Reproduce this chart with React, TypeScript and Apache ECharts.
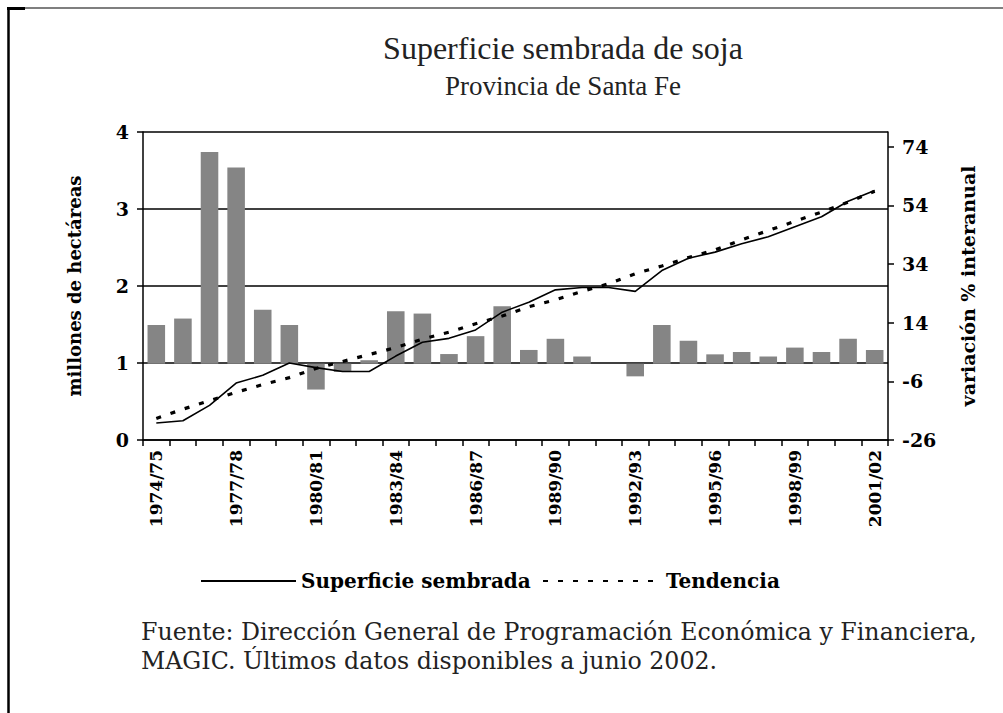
import React, { useEffect, useRef } from "react";
import * as echarts from "echarts";

const categories = [
  "1974/75", "1975/76", "1976/77", "1977/78", "1978/79", "1979/80", "1980/81",
  "1981/82", "1982/83", "1983/84", "1984/85", "1985/86", "1986/87", "1987/88",
  "1988/89", "1989/90", "1990/91", "1991/92", "1992/93", "1993/94", "1994/95",
  "1995/96", "1996/97", "1997/98", "1998/99", "1999/00", "2000/01", "2001/02",
];

// millones de hectáreas
const superficie = [
  0.22, 0.25, 0.45, 0.74, 0.84, 1.0, 0.94, 0.89, 0.89, 1.09, 1.27, 1.32, 1.43, 1.66,
  1.79, 1.95, 1.98, 1.98, 1.93, 2.2, 2.36, 2.44, 2.55, 2.64, 2.77, 2.9, 3.1, 3.24,
];

const tendencia = [
  0.28, 0.4, 0.51, 0.62, 0.72, 0.81, 0.93, 1.02, 1.11, 1.2, 1.31, 1.4, 1.51, 1.61,
  1.73, 1.82, 1.93, 2.03, 2.16, 2.26, 2.37, 2.47, 2.6, 2.72, 2.84, 2.96, 3.09, 3.23,
];

// variación % interanual
const variacion = [
  13.2, 15.4, 72.2, 66.9, 18.4, 13.2, -8.8, -2.8, 1.2, 17.9, 17.1, 3.3, 9.4, 19.6,
  4.7, 8.5, 2.5, 0, -4.3, 13.2, 7.8, 3.2, 4.0, 2.5, 5.5, 4.0, 8.5, 4.7,
];

const TITLE = "Superficie sembrada de soja";
const SUBTITLE = "Provincia de Santa Fe";
const SOURCE_1 = "Fuente: Dirección General de Programación Económica y Financiera,";
const SOURCE_2 = "MAGIC. Últimos datos disponibles a junio 2002.";

const boldFont = "DejaVu Serif";
const plainFont = "Liberation Serif";

export default function App() {
  const ref = useRef<HTMLDivElement>(null);

  useEffect(() => {
    if (!ref.current) return;
    const chart = echarts.init(ref.current, undefined, { renderer: "svg" });
    const axisLabelStyle = {
      fontFamily: boldFont,
      fontWeight: "bold" as const,
      fontSize: 17,
      color: "#000",
    };
    const legendText = { fontFamily: boldFont, fontWeight: "bold" as const, fontSize: 20, color: "#000" };
    chart.setOption({
      animation: false,
      backgroundColor: "#fff",
      title: {
        text: TITLE,
        subtext: SUBTITLE,
        left: 558,
        top: 27,
        textAlign: "center",
        itemGap: 8,
        textStyle: { fontFamily: plainFont, fontWeight: "normal", fontSize: 32, color: "#222" },
        subtextStyle: { fontFamily: plainFont, fontSize: 27, color: "#222" },
      },
      legend: [
        {
          data: ["Superficie sembrada"],
          left: 195,
          top: 566,
          itemWidth: 95,
          itemHeight: 14,
          itemStyle: { opacity: 0 },
          textStyle: legendText,
        },
        {
          data: ["Tendencia"],
          left: 537,
          top: 566,
          itemWidth: 118,
          itemHeight: 14,
          itemStyle: { opacity: 0 },
          textStyle: legendText,
        },
      ],
      grid: { left: 143, right: 115, top: 132, bottom: 273, containLabel: false },
      xAxis: {
        type: "category",
        data: categories,
        boundaryGap: true,
        axisLine: { show: true, lineStyle: { color: "#000", width: 1.5 } },
        axisTick: { show: true, interval: 0, length: 6, lineStyle: { color: "#000", width: 1.5 } },
        axisLabel: { ...axisLabelStyle, interval: 2, rotate: 90, margin: 10 },
        splitLine: { show: false },
      },
      yAxis: [
        {
          type: "value",
          min: 0,
          max: 4,
          interval: 1,
          name: "millones de hectáreas",
          nameLocation: "middle",
          nameRotate: 90,
          nameGap: 60,
          nameTextStyle: { ...axisLabelStyle, fontSize: 18 },
          axisLine: { show: true, lineStyle: { color: "#000", width: 1.5 } },
          axisTick: { show: true, length: 6, lineStyle: { color: "#000", width: 1.5 } },
          axisLabel: { ...axisLabelStyle, fontSize: 19, margin: 14 },
          splitLine: { show: true, lineStyle: { color: "#000", width: 1.5 } },
        },
        {
          type: "value",
          min: -26,
          max: 79,
          interval: 20,
          position: "right",
          name: "variación % interanual",
          nameLocation: "middle",
          nameRotate: 90,
          nameGap: 70,
          nameTextStyle: { ...axisLabelStyle, fontSize: 19 },
          axisLine: { show: true, lineStyle: { color: "#000", width: 1.5 } },
          axisTick: { show: true, length: 6, lineStyle: { color: "#000", width: 1.5 } },
          axisLabel: { ...axisLabelStyle, fontSize: 19, margin: 14, showMaxLabel: false },
          splitLine: { show: false },
        },
      ],
      series: [
        {
          name: "Variación",
          type: "bar",
          yAxisIndex: 1,
          data: variacion,
          barWidth: "66%",
          itemStyle: { color: "#858585" },
          z: 1,
        },
        {
          name: "Superficie sembrada",
          type: "line",
          yAxisIndex: 0,
          data: superficie,
          symbol: "none",
          lineStyle: { color: "#000", width: 1.6 },
          itemStyle: { color: "#000" },
          z: 3,
        },
        {
          name: "Tendencia",
          type: "line",
          yAxisIndex: 0,
          data: tendencia,
          symbol: "none",
          lineStyle: { color: "#000", width: 3.2, type: [5, 10] },
          itemStyle: { color: "#000" },
          z: 4,
        },
      ],
      graphic: [
        { type: "line", shape: { x1: 8.5, y1: 7, x2: 8.5, y2: 713 }, style: { stroke: "#000", lineWidth: 2.5 } },
        { type: "line", shape: { x1: 7, y1: 8.5, x2: 25, y2: 8.5 }, style: { stroke: "#000", lineWidth: 3 } },
        { type: "line", shape: { x1: 25, y1: 8, x2: 1003, y2: 8 }, style: { stroke: "#000", lineWidth: 1.2 } },
        {
          type: "text",
          left: 141,
          top: 617,
          style: {
            text: SOURCE_1 + "\n" + SOURCE_2,
            fontFamily: "DejaVu Serif",
            fontSize: 23.7,
            lineHeight: 29,
            fill: "#222",
          },
        },
      ],
    });
    return () => chart.dispose();
  }, []);

  return (
    <div
      ref={ref}
      style={{ position: "absolute", left: 0, top: 0, width: 1003, height: 713, background: "#fff" }}
    />
  );
}
